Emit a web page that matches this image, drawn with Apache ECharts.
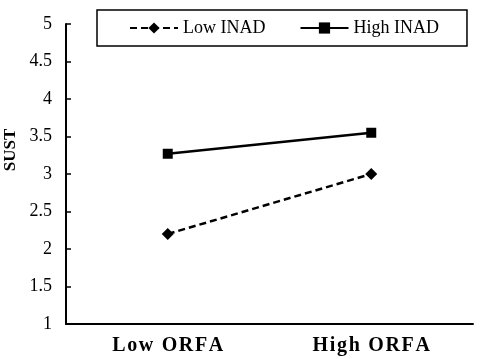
<!DOCTYPE html>
<html>
<head>
<meta charset="utf-8">
<script src="https://cdn.jsdelivr.net/npm/echarts@6/dist/echarts.min.js"></script>
<style>
html, body { margin: 0; padding: 0; background: #fff; }
#chart { width: 480px; height: 359px; }
</style>
</head>
<body>
<div id="chart"></div>
<script>
// 数据
var categories = ['Low ORFA', 'High ORFA']
var lowInad = [2.2, 3.0]
var highInad = [3.27, 3.55]
var seriesNames = ['Low INAD', 'High INAD']
var yName = 'SUST'

var serif = '"Liberation Serif", "DejaVu Serif", serif'
var chart = echarts.init(document.getElementById('chart'))

chart.setOption({
	animation: false,
	legend: {
		data: seriesNames,
		left: 97,
		top: 10,
		padding: [9, 28, 9, 32],
		itemWidth: 48,
		itemHeight: 14,
		itemGap: 34,
		borderColor: '#000',
		borderWidth: 1.5,
		borderRadius: 0,
		textStyle: {
			fontFamily: serif,
			fontSize: 18,
			color: '#000'
		}
	},
	grid: {
		left: 66,
		right: 7,
		top: 24,
		bottom: 35
	},
	xAxis: {
		type: 'category',
		data: categories,
		boundaryGap: true,
		axisLine: { lineStyle: { color: '#000', width: 2 } },
		axisTick: { inside: true, length: 5, lineStyle: { color: '#000', width: 1.5 } },
		axisLabel: {
			margin: 12,
			fontFamily: serif,
			fontWeight: 'bold',
			fontSize: 20,
			color: '#000',
			// 字间距
			formatter: function(v) {
				return v.split('').join('\u200A')
			}
		}
	},
	yAxis: {
		type: 'value',
		min: 1,
		max: 5,
		interval: 0.5,
		splitLine: { show: false },
		axisLine: { show: true, lineStyle: { color: '#000', width: 2 } },
		axisTick: { show: true, inside: true, length: 5, lineStyle: { color: '#000', width: 1.5 } },
		axisLabel: {
			margin: 14,
			fontFamily: serif,
			fontSize: 18,
			color: '#000'
		}
	},
	graphic: [{
		type: 'text',
		x: 11,
		y: 150,
		rotation: Math.PI / 2,
		style: {
			text: yName,
			fontFamily: serif,
			fontWeight: 'bold',
			fontSize: 17,
			fill: '#000',
			align: 'center',
			verticalAlign: 'middle'
		}
	}],
	series: [{
		name: seriesNames[0],
		type: 'line',
		data: lowInad,
		symbol: 'diamond',
		symbolSize: 12,
		itemStyle: { color: '#000' },
		lineStyle: { color: '#000', width: 2.5, type: [7, 4] }
	}, {
		name: seriesNames[1],
		type: 'line',
		data: highInad,
		symbol: 'rect',
		symbolSize: 10,
		itemStyle: { color: '#000' },
		lineStyle: { color: '#000', width: 2.5 }
	}]
})
</script>
</body>
</html>
